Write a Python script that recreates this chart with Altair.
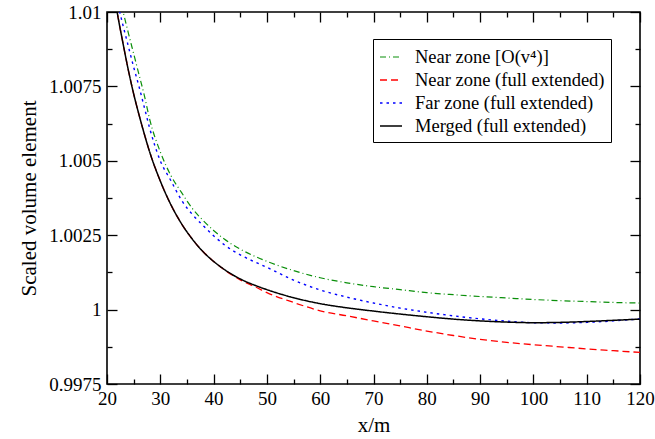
import altair as alt
import pandas as pd

# ---- data ----
x_vals = [21, 22, 23, 24, 25, 26, 27, 28, 30, 32, 34, 36, 38, 40, 42, 45, 48, 50,
          55, 60, 65, 70, 75, 80, 85, 90, 95, 100, 105, 110, 115, 120]

near_v4 = [1.0115, 1.0107, 1.01002, 1.00930, 1.00860, 1.00790, 1.00720, 1.00640,
           1.00530, 1.00450, 1.00393, 1.00340, 1.00300, 1.00266, 1.00237, 1.00203,
           1.00177, 1.00162, 1.00131, 1.00107, 1.00090, 1.00077, 1.00067, 1.00057,
           1.00050, 1.00044, 1.00039, 1.00034, 1.00030, 1.00027, 1.00024, 1.00022]

near_full = [1.0110, 1.00990, 1.00895, 1.00805, 1.00725, 1.00655, 1.00590, 1.00530,
             1.00432, 1.00352, 1.00288, 1.00237, 1.00195, 1.00162, 1.00134, 1.00100,
             1.00075, 1.00057, 1.00024, 0.99996, 0.99979, 0.99962, 0.99945, 0.99928,
             0.99913, 0.99900, 0.99890, 0.99882, 0.99875, 0.99868, 0.99862, 0.99856]

far_full = [1.0111, 1.01030, 1.00955, 1.00885, 1.00815, 1.00750, 1.00680, 1.00610,
            1.00500, 1.00433, 1.00367, 1.00320, 1.00283, 1.00248, 1.00218, 1.00184,
            1.00158, 1.00142, 1.00099, 1.00066, 1.00042, 1.00022, 1.00005, 0.99991,
            0.99979, 0.99969, 0.99961, 0.99956, 0.99955, 0.99957, 0.99962, 0.99969]

merged = [1.0110, 1.00990, 1.00895, 1.00805, 1.00725, 1.00655, 1.00590, 1.00530,
          1.00432, 1.00352, 1.00288, 1.00237, 1.00195, 1.00162, 1.00135, 1.00103,
          1.00080, 1.00067, 1.00040, 1.00020, 1.00006, 0.99995, 0.99985, 0.99976,
          0.99968, 0.99962, 0.99958, 0.99956, 0.99957, 0.99960, 0.99964, 0.99968]

series_names = ["Near zone [O(v\u2074)]", "Near zone (full extended)",
                "Far zone (full extended)", "Merged (full extended)"]
series_colors = ["#0a8f0a", "#ff0000", "#0000ff", "#000000"]
series_dash = [[6, 3, 1, 3], [7, 4], [2.5, 4], [1, 0]]
series_width = [1.2, 1.5, 2.6, 1.6]

x_major = [20, 30, 40, 50, 60, 70, 80, 90, 100, 110, 120]
x_minor = [25, 35, 45, 55, 65, 75, 85, 95, 105, 115]
y_major = [0.9975, 1.0, 1.0025, 1.005, 1.0075, 1.01]
y_minor = [0.99875, 1.00125, 1.00375, 1.00625, 1.00875]

rows = []
for name, vals in zip(series_names, [near_v4, near_full, far_full, merged]):
    for xv, yv in zip(x_vals, vals):
        rows.append({"series": name, "x": xv, "v": yv})
df = pd.DataFrame(rows)

FONT = "Liberation Serif"
xs = alt.Scale(domain=[20, 120], nice=False, zero=False)
ys = alt.Scale(domain=[0.9975, 1.01], nice=False, zero=False)


def ax(orient, values, size, labels=False, title=None, **kw):
    args = dict(orient=orient, values=values, tickSize=size, offset=-size,
                domain=False, grid=False, labels=labels, ticks=True,
                tickColor="black", tickWidth=1.3, labelFlush=False)
    args["title"] = title if title is not None else None
    args.update(kw)
    return alt.Axis(**args)


lines = alt.Chart(df).mark_line(clip=True, interpolate="monotone").encode(
    x=alt.X("x:Q", scale=xs,
            axis=ax("bottom", x_major, 10, labels=True, title="x/m",
                    labelPadding=5, titlePadding=6, format="d")),
    y=alt.Y("v:Q", scale=ys,
            axis=ax("left", y_major, 10, labels=True, title="Scaled volume element",
                    labelPadding=6, titlePadding=9,
                    labelExpr="format(datum.value, '.4~f')")),
    color=alt.Color("series:N", sort=series_names,
                    scale=alt.Scale(domain=series_names, range=series_colors),
                    legend=alt.Legend(title=None)),
    strokeDash=alt.StrokeDash("series:N", sort=series_names,
                              scale=alt.Scale(domain=series_names, range=series_dash),
                              legend=alt.Legend(title=None)),
    strokeWidth=alt.StrokeWidth("series:N", sort=series_names,
                                scale=alt.Scale(domain=series_names, range=series_width),
                                legend=None),
    order=alt.Order("series:N"),
)

minor = alt.Chart(df).mark_point(opacity=0).encode(
    x=alt.X("x:Q", scale=xs, axis=ax("bottom", x_minor, 5)),
    y=alt.Y("v:Q", scale=ys, axis=ax("left", y_minor, 5)),
)
top_major = alt.Chart(df).mark_point(opacity=0).encode(
    x=alt.X("x:Q", scale=xs, axis=ax("top", x_major, 10)),
    y=alt.Y("v:Q", scale=ys, axis=ax("right", y_major, 10)),
)
top_minor = alt.Chart(df).mark_point(opacity=0).encode(
    x=alt.X("x:Q", scale=xs, axis=ax("top", x_minor, 5)),
    y=alt.Y("v:Q", scale=ys, axis=ax("right", y_minor, 5)),
)

chart = alt.layer(lines, minor, top_major, top_minor).resolve_axis(
    x="independent", y="independent"
).properties(
    width=533, height=372,
    autosize=alt.AutoSizeParams(type="none"),
    padding={"left": 107, "top": 12, "right": 15, "bottom": 55},
    background="white",
).configure_view(
    stroke="black", strokeWidth=1.6
).configure_axis(
    labelFont=FONT, labelFontSize=19, labelColor="black",
    titleFont=FONT, titleFontSize=21, titleColor="black", titleFontWeight="normal",
).configure_legend(
    orient="none", legendX=266, legendY=27,
    strokeColor="black", strokeWidth=1, fillColor="white",
    padding=6, labelFont=FONT, labelFontSize=18.5, labelColor="black",
    labelLimit=400, symbolType="stroke", symbolSize=484, symbolStrokeWidth=1.5,
    labelOffset=12, rowPadding=1, cornerRadius=0,
)

chart.save("out.html", embed_options={"renderer": "svg", "actions": False})
